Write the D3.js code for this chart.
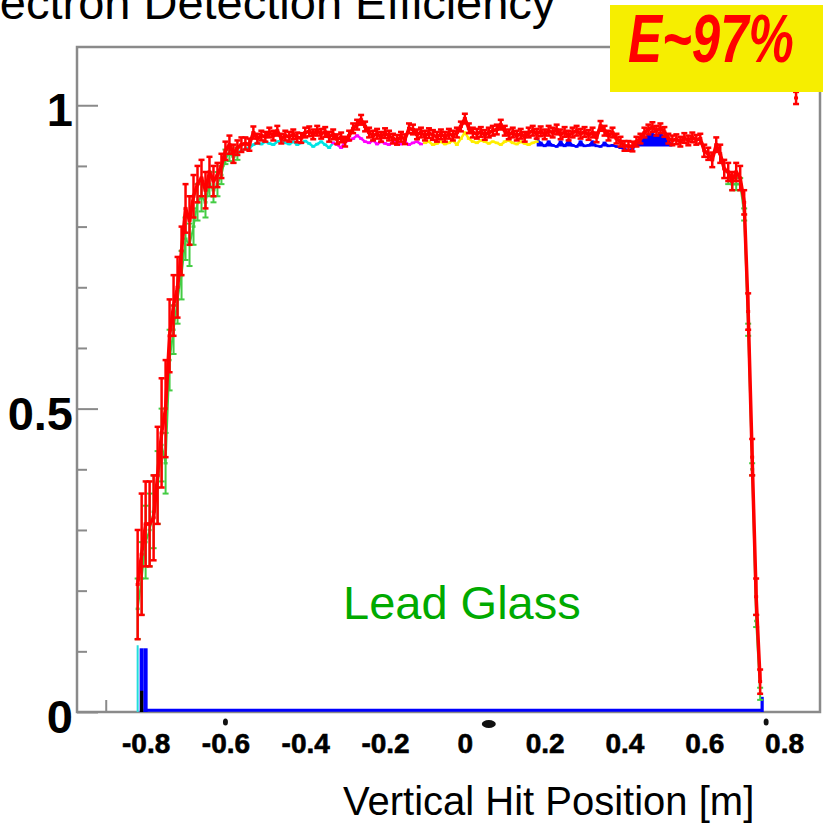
<!DOCTYPE html>
<html><head><meta charset="utf-8">
<script src="https://cdn.jsdelivr.net/npm/d3@7"></script>
<style>html,body{margin:0;padding:0;background:#fff;overflow:hidden}svg{display:block}</style>
</head><body><svg id="c" width="823" height="824"></svg>
<script>
// ---------------- data ----------------
const xTickValues = [-0.8,-0.6,-0.4,-0.2,0,0.2,0.4,0.6,0.8];
const xTickLabels = ["-0.8","-0.6","-0.4","-0.2","0","0.2","0.4","0.6","0.8"];
const xMinorTicks = [-0.9];
const yMajorTicks = [0,0.5,1];
const yTickLabels = ["0","0.5","1"];
const yMinorTicks = [0.1,0.2,0.3,0.4,0.6,0.7,0.8,0.9];

const binWidth = 0.01;
const redStart = -0.82;
const redValues = [
 0.21,0.26,0.31,0.31,0.32,0.39,0.46,0.50,0.62,0.67,
 0.70,0.76,0.83,0.81,0.85,0.87,0.88,0.86,0.89,0.875,
 0.885,0.90,0.925,0.935,0.92,0.93,0.935,0.937,0.935,0.955,
 0.945,0.95,0.948,0.955,0.95,0.958,0.945,0.95,0.948,0.952,
 0.947,0.946,0.955,0.957,0.952,0.958,0.953,0.956,0.948,0.952,
 0.944,0.947,0.94,0.95,0.962,0.968,0.976,0.965,0.955,0.95,
 0.953,0.948,0.954,0.95,0.945,0.943,0.948,0.944,0.962,0.96,
 0.952,0.955,0.95,0.954,0.951,0.948,0.952,0.948,0.953,0.95,
 0.955,0.965,0.978,0.962,0.955,0.953,0.956,0.951,0.955,0.958,
 0.96,0.968,0.958,0.952,0.955,0.95,0.953,0.948,0.955,0.958,
 0.953,0.957,0.952,0.958,0.955,0.96,0.952,0.956,0.95,0.955,
 0.958,0.953,0.956,0.951,0.955,0.947,0.966,0.958,0.95,0.955,
 0.945,0.94,0.933,0.933,0.932,0.94,0.945,0.955,0.96,0.964,
 0.958,0.962,0.956,0.945,0.942,0.944,0.94,0.946,0.942,0.947,
 0.943,0.945,0.925,0.92,0.91,0.935,0.92,0.895,0.89,0.875,
 0.89,0.88,0.84,0.66,0.42,0.19,0.05
];
const redErrLeft = [
 0.09,0.10,0.07,0.07,0.07,0.08,0.09,0.08,0.06,0.05,
 0.05,0.04,0.04,0.04,0.035,0.03,0.03,0.03,0.025,0.025,
 0.02,0.02,0.015,0.015,0.015,0.012,0.012,0.01,0.01,0.01
];
const redErrRight = [0.008,0.008,0.01,0.01,0.012,0.012,0.015,0.015,0.015,0.015,0.015,0.02,0.02,0.03,0.03,0.03,0.02];
const plateauErr = 0.008;

const outlierX = [0.83];
const outlierV = [1.012];
const outlierE = [0.01];

const greenLeftStart = -0.82;
const greenLeft = [0.17,0.22,0.28,0.30,0.33,0.37,0.44,0.41,0.58,0.63,
 0.68,0.72,0.78,0.77,0.80,0.84,0.85,0.84,0.87,0.86,
 0.87,0.885,0.915,0.92,0.915,0.92];
const greenLeftErr = [0.05,0.06,0.06,0.06,0.06,0.06,0.06,0.05,0.05,0.04,
 0.04,0.04,0.035,0.035,0.03,0.03,0.025,0.025,0.02,0.02,
 0.02,0.015,0.012,0.012,0.01,0.01];
const greenRightStart = 0.66;
const greenRight = [0.88,0.87,0.87,0.87,0.82,0.63,0.40,0.15,0.03];

const cyanStart = -0.60;
const cyanValues = [0.915,0.92,0.918,0.92,0.925,0.928,0.93,0.935,0.938,0.936,0.94,0.937,0.935,0.94,0.942,0.938,0.936,0.94,0.935,0.938,0.941,0.937,0.932,0.936,0.94,0.935,0.93,0.938];
const magentaStart = -0.33;
const magentaValues = [0.938,0.935,0.93,0.94,0.942,0.945,0.95,0.945,0.94,0.938,0.942,0.936,0.94,0.937,0.935,0.94,0.938,0.936,0.94,0.935,0.938,0.94,0.936];
const yellowStart = -0.10;
const yellowValues = [0.938,0.94,0.935,0.937,0.94,0.936,0.938,0.942,0.935,0.945,0.955,0.945,0.94,0.938,0.942,0.94,0.937,0.94,0.938,0.935,0.94,0.942,0.938,0.936,0.94,0.937,0.935,0.938,0.94];
const blueStart = 0.18;
const blueValues = [0.945,0.938,0.933,0.94,0.934,0.932,0.94,0.933,0.942,0.934,0.932,0.94,0.933,0.934,0.94,0.933,0.932,0.938,0.933,0.934,0.932,0.93,0.928,0.926,0.928,0.935,0.94,0.945,0.95,0.952,0.95,0.953,0.948,0.94,0.935];
const blueFloor = 0.932;

// inefficiency strip along zero and edge bins
const bottomX = [-0.805,0.745];
const bottomV = [0.003,0.003];
const edgeBlueX = [-0.81,-0.80];
const edgeBlueV = [0.105,0.105];
const edgeBlackX = [-0.81];
const edgeBlackV = [0.035];
const edgeCyanX = [-0.82];
const edgeCyanV = [0.11];
const edgeRightX = [0.745];
const edgeRightV = [0.025];
const residueMarks = [-0.6,0.06,0.755];

// ---------------- drawing ----------------
const svg = d3.select("#c");
const FONT = "'Liberation Sans', Arial, Helvetica, sans-serif";
const L = 77, R = 820, T = 47, B = 712;
const x = d3.scaleLinear().domain([-0.972,0.89]).range([L,R]);
const y = d3.scaleLinear().domain([0,1.096]).range([B,T]);

const r3 = v => Math.round(v*1000)/1000;
const mk = (start, vals, errs) => vals.map((v,i)=>({x:r3(start+i*binWidth), v, e: errs ? errs[i] : 0}));

// title (cut off at left/top edge, as in the source picture)
svg.append("text").attr("x",-42).attr("y",19).attr("font-family",FONT)
  .attr("font-size",47).attr("fill","#000").text("Electron Detection Efficiency");

// frame
svg.append("path").attr("d",`M${L},${B}V${T}H${R}V${B}Z`)
  .attr("fill","none").attr("stroke","#8a8a8a").attr("stroke-width",2.5);

// y axis major
const yAx = svg.append("g").attr("transform",`translate(${L},0)`)
  .call(d3.axisLeft(y).tickValues(yMajorTicks).tickFormat((d,i)=>yTickLabels[i]).tickSize(-21).tickPadding(4));
yAx.select(".domain").remove();
yAx.selectAll("line").attr("stroke","#8a8a8a").attr("stroke-width",2);
yAx.selectAll("text").attr("font-family",FONT).attr("font-weight","bold").attr("font-size",47)
  .attr("fill","#000").attr("dy","0.44em");
// y axis minor
const yAx2 = svg.append("g").attr("transform",`translate(${L},0)`)
  .call(d3.axisLeft(y).tickValues(yMinorTicks).tickFormat("").tickSize(-10));
yAx2.select(".domain").remove();
yAx2.selectAll("line").attr("stroke","#8a8a8a").attr("stroke-width",2);

// x axis labels
const xAx = svg.append("g").attr("transform",`translate(0,${B})`)
  .call(d3.axisBottom(x).tickValues(xTickValues).tickFormat((d,i)=>xTickLabels[i]).tickSize(0).tickPadding(21));
xAx.select(".domain").remove();
xAx.selectAll("text").attr("font-family",FONT).attr("font-weight","bold").attr("font-size",28).attr("fill","#000")
  .attr("stroke","#000").attr("stroke-width",0.6);
// x minor tick
const xAx2 = svg.append("g").attr("transform",`translate(0,${B})`)
  .call(d3.axisBottom(x).tickValues(xMinorTicks).tickFormat("").tickSize(-12));
xAx2.select(".domain").remove();
xAx2.selectAll("line").attr("stroke","#8a8a8a").attr("stroke-width",2);

// residue marks under axis
svg.append("g").selectAll("ellipse").data(residueMarks).join("ellipse")
  .attr("cx",d=>x(d)).attr("cy",(d,i)=> i===1?724:722).attr("rx",(d,i)=>i===1?7:2.5).attr("ry",(d,i)=>i===1?4:3.5)
  .attr("fill","#111");

const line = d3.line().x(d=>x(d.x)).y(d=>y(d.v));

function series(pts, color, lw, ew, withErr){
  const g = svg.append("g");
  g.append("path").datum(pts).attr("d",line).attr("fill","none")
    .attr("stroke",color).attr("stroke-width",lw).attr("stroke-linejoin","round");
  g.selectAll("line.h").data(pts).join("line")
    .attr("x1",d=>x(d.x-binWidth/2)).attr("x2",d=>x(d.x+binWidth/2))
    .attr("y1",d=>y(d.v)).attr("y2",d=>y(d.v)).attr("stroke",color).attr("stroke-width",ew+0.5);
  if(withErr){
    g.selectAll("line.v").data(pts).join("line")
      .attr("x1",d=>x(d.x)).attr("x2",d=>x(d.x))
      .attr("y1",d=>y(d.v-d.e)).attr("y2",d=>y(d.v+d.e)).attr("stroke",color).attr("stroke-width",ew);
    ["lo","hi"].forEach(k=>{
      g.selectAll("line.c"+k).data(pts).join("line")
        .attr("x1",d=>x(d.x)-3).attr("x2",d=>x(d.x)+3)
        .attr("y1",d=>y(k==="lo"?d.v-d.e:d.v+d.e)).attr("y2",d=>y(k==="lo"?d.v-d.e:d.v+d.e))
        .attr("stroke",color).attr("stroke-width",ew);
    });
  }
  return g;
}

// bottom inefficiency strip
svg.append("path").datum(bottomX.map((d,i)=>({x:d,v:bottomV[i]}))).attr("d",line)
  .attr("stroke","#0000ff").attr("stroke-width",3).attr("fill","none");
function bars(xs, vs, color, frac){
  svg.append("g").selectAll("rect").data(xs.map((d,i)=>({x:d,v:vs[i]}))).join("rect")
    .attr("x",d=>x(d.x-binWidth*frac/2)).attr("width",d=>x(d.x+binWidth*frac/2)-x(d.x-binWidth*frac/2))
    .attr("y",d=>y(d.v)).attr("height",d=>y(0)-y(d.v)).attr("fill",color);
}
bars(edgeCyanX, edgeCyanV, "#22dddd", 0.5);
bars(edgeBlueX, edgeBlueV, "#0000ff", 1);
bars(edgeBlackX, edgeBlackV, "#000", 0.8);
bars(edgeRightX, edgeRightV, "#0000ff", 0.8);

// sub-series just below the plateau
const bluePts = mk(blueStart, blueValues);
svg.append("path").datum(bluePts).attr("fill","#0000ff")
  .attr("d", d3.area().x(d=>x(d.x)).y0(y(blueFloor)).y1(d=>y(Math.max(d.v,blueFloor))));
series(bluePts, "#0000ff", 2, 2, false);
series(mk(cyanStart, cyanValues), "#00e5e5", 2.5, 2, false);
series(mk(magentaStart, magentaValues), "#ff00ff", 2.5, 2, false);
series(mk(yellowStart, yellowValues), "#ffee00", 2.5, 2, false);

// green
series(mk(greenLeftStart, greenLeft, greenLeftErr), "#44cc44", 2, 2, true);
series(mk(greenRightStart, greenRight, greenRight.map(()=>0.01)), "#44cc44", 2, 2, true);

// red
const nR = redValues.length;
const redErr = redValues.map((v,i)=> i<redErrLeft.length ? redErrLeft[i]
  : (i>=nR-redErrRight.length ? redErrRight[i-(nR-redErrRight.length)] : plateauErr));
series(mk(redStart, redValues, redErr), "#ff0000", 3.5, 2.5, true);
// outlier near top right
series(outlierX.map((d,i)=>({x:d, v:outlierV[i], e:outlierE[i]})), "#ff0000", 3, 2.5, true);

// yellow box with label (tall, narrow lettering)
svg.append("rect").attr("x",610).attr("y",5).attr("width",213).attr("height",87).attr("fill","#f6ee00");
svg.append("text").attr("transform","translate(628,62) scale(1,1.34)")
  .attr("font-family",FONT).attr("font-weight","bold")
  .attr("font-style","italic").attr("font-size",51).attr("fill","#ff0000").text("E~97%");

// Lead Glass label
svg.append("text").attr("x",343).attr("y",619).attr("font-family",FONT).attr("font-size",47)
  .attr("fill","#00aa00").text("Lead Glass");

// x axis title
svg.append("text").attr("x",343).attr("y",815).attr("font-family",FONT).attr("font-size",40)
  .attr("fill","#000").text("Vertical Hit Position [m]");
</script></body></html>
